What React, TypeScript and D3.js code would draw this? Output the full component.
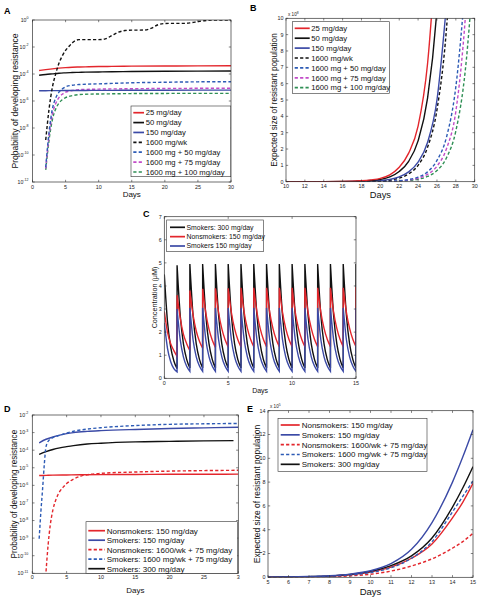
import React from 'react';
import * as d3 from 'd3';

const FONT = '"Liberation Sans", Arial, Helvetica, sans-serif';
const RED = '#e3262c';
const BLK = '#111111';
const BLU = '#3b4aa6';
const DBLU = '#2d5bb5';
const MAG = '#c24bc8';
const GRN = '#2f8f55';

// ---------- Panel A: probability of developing resistance ----------
const aDaysSolid = [1, 2, 3, 4, 5, 6, 7, 8, 10, 12, 15, 20, 25, 30];
const a25 = [1.8e-4, 2.1e-4, 2.4e-4, 2.7e-4, 2.95e-4, 3.15e-4, 3.3e-4, 3.4e-4, 3.55e-4, 3.65e-4, 3.8e-4, 3.9e-4, 4.0e-4, 4.05e-4];
const a50 = [8e-5, 9.2e-5, 1.03e-4, 1.15e-4, 1.22e-4, 1.28e-4, 1.33e-4, 1.37e-4, 1.42e-4, 1.47e-4, 1.52e-4, 1.58e-4, 1.62e-4, 1.65e-4];
const a150 = [5.7e-6, 5.8e-6, 5.85e-6, 5.9e-6, 5.95e-6, 6.0e-6, 6.0e-6, 6.05e-6, 6.1e-6, 6.15e-6, 6.2e-6, 6.3e-6, 6.35e-6, 6.4e-6];
const aDaysWk = [2, 2.5, 3, 3.5, 4, 4.5, 5, 5.5, 6, 7, 8, 9, 10, 11, 12, 13, 14, 15, 16, 17, 18, 19, 20, 21, 22, 23, 24, 25, 26, 27, 28, 29, 30];
const a1600wk = [1.3e-9, 2.5e-7, 1e-5, 1e-4, 6.3e-4, 2.2e-3, 5.6e-3, 1.1e-2, 2.0e-2, 3.5e-2, 3.5e-2, 3.5e-2, 3.5e-2, 4.0e-2, 7.1e-2, 0.126, 0.166, 0.178, 0.178, 0.182, 0.25, 0.45, 0.55, 0.56, 0.56, 0.56, 0.63, 0.76, 0.89, 0.98, 1, 1, 1];
const aDaysCombo = [2, 2.5, 3, 3.5, 4, 4.5, 5, 6, 7, 8, 10, 15, 20, 25, 30];
const a1600p50 = [1.26e-11, 5e-9, 2.5e-7, 1.6e-6, 4.5e-6, 7.9e-6, 1.12e-5, 1.48e-5, 1.66e-5, 1.74e-5, 1.86e-5, 2.24e-5, 2.45e-5, 2.63e-5, 2.69e-5];
const a1600p75 = [1e-11, 2.5e-9, 1e-7, 6.3e-7, 1.78e-6, 3.16e-6, 4.47e-6, 6.0e-6, 6.9e-6, 7.2e-6, 7.6e-6, 8.1e-6, 8.5e-6, 8.7e-6, 8.7e-6];
const a1600p100 = [7.9e-12, 1.26e-9, 4e-8, 2.5e-7, 7.1e-7, 1.26e-6, 1.78e-6, 2.5e-6, 2.95e-6, 3.16e-6, 3.3e-6, 3.55e-6, 3.63e-6, 3.7e-6, 3.7e-6];
const aLegend = ['25 mg/day', '50 mg/day', '150 mg/day', '1600 mg/wk', '1600 mg + 50 mg/day', '1600 mg + 75 mg/day', '1600 mg + 100 mg/day'];

// ---------- Panel B: expected size of resistant population (x10^8) ----------
const bDays = [10, 12, 14, 16, 17, 18, 19, 20, 21, 22, 23, 24, 25, 26, 27, 28, 29, 30];
const b25 = [0.0002, 0.0009, 0.0035, 0.014, 0.028, 0.056, 0.11, 0.2, 0.42, 0.88, 1.75, 3.4, 7.2, 15];
const b50 = [0.00015, 0.0006, 0.0025, 0.01, 0.02, 0.04, 0.075, 0.14, 0.29, 0.62, 1.25, 2.5, 5.1, 10.6, 22];
const b150 = [0.0001, 0.0003, 0.0012, 0.005, 0.01, 0.018, 0.035, 0.07, 0.14, 0.3, 0.6, 1.2, 2.4, 5.0, 10.8];
const b1600wk = [0.0001, 0.0002, 0.0008, 0.003, 0.006, 0.012, 0.025, 0.05, 0.1, 0.22, 0.48, 1.0, 2.1, 4.4, 9.3, 19];
const b1600p50 = [0.00005, 0.0001, 0.0003, 0.0012, 0.002, 0.004, 0.008, 0.014, 0.03, 0.06, 0.13, 0.28, 0.6, 1.3, 2.7, 5.8, 12];
const b1600p75 = [0.00004, 0.0001, 0.0002, 0.0009, 0.0015, 0.003, 0.006, 0.01, 0.02, 0.045, 0.1, 0.21, 0.45, 0.95, 2.0, 4.3, 10, 20];
const b1600p100 = [0.00003, 0.0001, 0.0002, 0.0006, 0.001, 0.002, 0.004, 0.007, 0.014, 0.03, 0.07, 0.15, 0.32, 0.68, 1.45, 3.1, 6.8, 14];

// ---------- Panel C: concentration (µM); each row = one day's dose cycle at 0, .25, .5, .75, 1 day ----------
const cSmokers300 = [
  [4.5, 2.45, 1.35, 0.75, 0.42],
  [4.9, 2.7, 1.48, 0.82, 0.45], [4.95, 2.72, 1.49, 0.82, 0.45], [4.95, 2.72, 1.49, 0.82, 0.45],
  [4.95, 2.72, 1.49, 0.82, 0.45], [4.95, 2.72, 1.49, 0.82, 0.45], [4.95, 2.72, 1.49, 0.82, 0.45],
  [4.95, 2.72, 1.49, 0.82, 0.45], [4.95, 2.72, 1.49, 0.82, 0.45], [4.95, 2.72, 1.49, 0.82, 0.45],
  [4.95, 2.72, 1.49, 0.82, 0.45], [4.95, 2.72, 1.49, 0.82, 0.45], [4.95, 2.72, 1.49, 0.82, 0.45],
  [4.95, 2.72, 1.49, 0.82, 0.45], [4.95, 2.72, 1.49, 0.82, 0.45],
];
const cNonsmokers150 = [
  [2.9, 2.0, 1.5, 1.2, 0.95],
  [3.6, 2.6, 1.9, 1.5, 1.2], [3.8, 2.75, 2.05, 1.6, 1.3], [3.88, 2.82, 2.12, 1.66, 1.34],
  [3.9, 2.85, 2.15, 1.68, 1.36], [3.9, 2.85, 2.15, 1.68, 1.36], [3.92, 2.86, 2.16, 1.69, 1.37],
  [3.92, 2.86, 2.16, 1.69, 1.37], [3.92, 2.86, 2.16, 1.69, 1.37], [3.92, 2.86, 2.16, 1.69, 1.37],
  [3.92, 2.86, 2.16, 1.69, 1.37], [3.92, 2.86, 2.16, 1.69, 1.37], [3.92, 2.86, 2.16, 1.69, 1.37],
  [3.92, 2.86, 2.16, 1.69, 1.37], [3.92, 2.86, 2.16, 1.69, 1.37],
];
const cSmokers150 = [
  [2.4, 1.3, 0.72, 0.42, 0.28],
  [3.0, 1.65, 0.92, 0.52, 0.3], [3.05, 1.67, 0.93, 0.53, 0.3], [3.05, 1.67, 0.93, 0.53, 0.3],
  [3.05, 1.67, 0.93, 0.53, 0.3], [3.05, 1.67, 0.93, 0.53, 0.3], [3.05, 1.67, 0.93, 0.53, 0.3],
  [3.05, 1.67, 0.93, 0.53, 0.3], [3.05, 1.67, 0.93, 0.53, 0.3], [3.05, 1.67, 0.93, 0.53, 0.3],
  [3.05, 1.67, 0.93, 0.53, 0.3], [3.05, 1.67, 0.93, 0.53, 0.3], [3.05, 1.67, 0.93, 0.53, 0.3],
  [3.05, 1.67, 0.93, 0.53, 0.3], [3.05, 1.67, 0.93, 0.53, 0.3],
];
const cFinalPeaks = [4.95, 3.95, 3.05];
const cLegend = ['Smokers: 300 mg/day', 'Nonsmokers: 150 mg/day', 'Smokers 150 mg/day'];

// ---------- Panel D: probability of developing resistance ----------
const dDaysNon150 = [1, 2, 3, 5, 7, 10, 15, 20, 25, 30];
const dNon150 = [3.6e-6, 3.7e-6, 3.8e-6, 3.9e-6, 4.0e-6, 4.07e-6, 4.17e-6, 4.27e-6, 4.27e-6, 4.37e-6];
const dDaysNonCombo = [2, 2.3, 2.6, 3, 3.5, 4, 4.5, 5, 6, 7, 8, 10, 15, 20, 25, 30];
const dNonCombo = [1.26e-11, 4e-10, 5e-9, 4e-8, 1.8e-7, 4.5e-7, 7.9e-7, 1.26e-6, 2.24e-6, 3.3e-6, 4e-6, 4.8e-6, 5.75e-6, 6.45e-6, 6.9e-6, 7.2e-6];
const dDaysSm150 = [1, 2, 3, 4, 5, 6, 8, 10, 15, 20, 25, 30];
const dSm150 = [2.63e-4, 4.17e-4, 5.6e-4, 7.2e-4, 8.7e-4, 1.0e-3, 1.17e-3, 1.29e-3, 1.51e-3, 1.7e-3, 1.86e-3, 2.0e-3];
const dDaysSmCombo = [1, 1.25, 1.5, 1.75, 2, 2.5, 3, 4, 5, 6, 8, 10, 15, 20, 25, 30];
const dSmCombo = [9.3e-10, 3.2e-8, 6.3e-7, 1.6e-5, 1.6e-4, 4.0e-4, 5.2e-4, 7.0e-4, 9.5e-4, 1.2e-3, 1.58e-3, 1.9e-3, 2.5e-3, 2.95e-3, 3.16e-3, 3.3e-3];
const dDaysSm300 = [1, 2, 3, 4, 5, 6, 8, 10, 15, 20, 25, 29.3];
const dSm300 = [5.75e-5, 8.3e-5, 1.1e-4, 1.35e-4, 1.58e-4, 1.82e-4, 2.24e-4, 2.5e-4, 2.95e-4, 3.16e-4, 3.4e-4, 3.47e-4];
const deLegend = ['Nonsmokers: 150 mg/day', 'Smokers: 150 mg/day', 'Nonsmokers: 1600/wk + 75 mg/day', 'Smokers: 1600 mg/wk + 75 mg/day', 'Smokers: 300 mg/day'];
const dXTickLabels = ['0', '5', '10', '15', '20', '25', '3'];

// ---------- Panel E: expected size of resistant population ----------
const eDays = [5, 6, 7, 8, 9, 10, 11, 12, 13, 14, 14.5, 15];
const eNon150 = [0.01, 0.025, 0.05, 0.1, 0.22, 0.45, 0.85, 1.6, 2.8, 5.0, 6.3, 7.9];
const eSm150 = [0.015, 0.03, 0.07, 0.13, 0.27, 0.55, 1.15, 2.35, 4.6, 8.0, 10.1, 12.4];
const eNonCombo = [0.005, 0.01, 0.02, 0.05, 0.12, 0.26, 0.52, 0.95, 1.55, 2.45, 3.0, 3.7];
const eSmCombo = [0.008, 0.02, 0.045, 0.1, 0.2, 0.4, 0.8, 1.6, 3.0, 5.5, 6.8, 8.1];
const eSm300 = [0.012, 0.028, 0.06, 0.12, 0.25, 0.5, 0.98, 1.8, 3.3, 5.9, 7.5, 9.3];

type Series = { xs: number[]; ys: number[]; color: string; dash?: string; w?: number };
type LegendItem = { label: string; color: string; dash?: string };
type Box = { l: number; r: number; t: number; b: number };

const DASH = '3.2,2.2';

function seriesPath(s: Series, x: any, y: any) {
  const pts = s.xs.slice(0, s.ys.length).map((d, i) => [d, s.ys[i]] as [number, number]);
  const line = d3.line<[number, number]>().x((p) => x(p[0])).y((p) => y(p[1])).curve(d3.curveMonotoneX);
  return line(pts) || '';
}

function Frame(props: {
  id: string; box: Box; x: any; y: any; xTicks: number[]; xTickText?: string[]; yTicks: number[];
  yTickNode: (v: number) => React.ReactNode; tickFont: number; xTickY: number; yTickX: number;
  xLabel: string; xLabelY: number; xLabelFont: number; yLabel: string; yLabelX: number; yLabelFont: number;
  children?: React.ReactNode; letter: string; letterX: number; letterY: number;
}) {
  const { box, x, y } = props;
  const tl = 2.2;
  return (
    <g>
      <defs>
        <clipPath id={props.id}>
          <rect x={box.l} y={box.t} width={box.r - box.l} height={box.b - box.t} />
        </clipPath>
      </defs>
      <rect x={box.l} y={box.t} width={box.r - box.l} height={box.b - box.t} fill="#fff" />
      <g clipPath={`url(#${props.id})`}>{props.children}</g>
      <rect x={box.l} y={box.t} width={box.r - box.l} height={box.b - box.t} fill="none" stroke="#333" strokeWidth={0.7} />
      {props.xTicks.map((v, i) => (
        <g key={'xt' + i}>
          <line x1={x(v)} x2={x(v)} y1={box.b} y2={box.b - tl} stroke="#333" strokeWidth={0.6} />
          <line x1={x(v)} x2={x(v)} y1={box.t} y2={box.t + tl} stroke="#333" strokeWidth={0.6} />
          <text x={x(v)} y={props.xTickY} fontSize={props.tickFont} textAnchor="middle" fill="#222">
            {props.xTickText ? props.xTickText[i] : String(v)}
          </text>
        </g>
      ))}
      {props.yTicks.map((v, i) => (
        <g key={'yt' + i}>
          <line x1={box.l} x2={box.l + tl} y1={y(v)} y2={y(v)} stroke="#333" strokeWidth={0.6} />
          <line x1={box.r} x2={box.r - tl} y1={y(v)} y2={y(v)} stroke="#333" strokeWidth={0.6} />
          <text x={props.yTickX} y={y(v) + props.tickFont * 0.35} fontSize={props.tickFont} textAnchor="end" fill="#222">
            {props.yTickNode(v)}
          </text>
        </g>
      ))}
      <text x={(box.l + box.r) / 2} y={props.xLabelY} fontSize={props.xLabelFont} textAnchor="middle" fill="#111">
        {props.xLabel}
      </text>
      <text
        transform={`translate(${props.yLabelX},${(box.t + box.b) / 2}) rotate(-90)`}
        fontSize={props.yLabelFont}
        textAnchor="middle"
        fill="#111"
      >
        {props.yLabel}
      </text>
      <text x={props.letterX} y={props.letterY} fontSize={9} fontWeight="bold" fill="#000">
        {props.letter}
      </text>
    </g>
  );
}

function Legend(props: { box: Box; items: LegendItem[]; rowTop: number; rowStep: number; lineX1: number; lineX2: number; textX: number; font: number }) {
  const { box } = props;
  return (
    <g>
      <rect x={box.l} y={box.t} width={box.r - box.l} height={box.b - box.t} fill="#fff" stroke="#333" strokeWidth={0.6} />
      {props.items.map((it, i) => {
        const yy = props.rowTop + i * props.rowStep;
        return (
          <g key={i}>
            <line x1={props.lineX1} x2={props.lineX2} y1={yy} y2={yy} stroke={it.color} strokeWidth={1.7} strokeDasharray={it.dash} />
            <text x={props.textX} y={yy + props.font * 0.36} fontSize={props.font} fill="#111">
              {it.label}
            </text>
          </g>
        );
      })}
    </g>
  );
}

function logTick(v: number, main: number, sup: number) {
  const e = Math.round(Math.log10(v));
  return (
    <>
      <tspan fontSize={main}>10</tspan>
      <tspan fontSize={sup} dy={-2.4}>{String(e)}</tspan>
    </>
  );
}

function Lines(props: { series: Series[]; x: any; y: any }) {
  return (
    <>
      {props.series.map((s, i) => (
        <path key={i} d={seriesPath(s, props.x, props.y)} fill="none" stroke={s.color} strokeWidth={s.w ?? 1.4} strokeDasharray={s.dash} />
      ))}
    </>
  );
}

export default function App() {
  // ---- A ----
  const boxA: Box = { l: 32.5, r: 231, t: 20, b: 182 };
  const xA = d3.scaleLinear().domain([0, 30]).range([boxA.l, boxA.r]);
  const yA = d3.scaleLog().domain([1e-12, 1]).range([boxA.b, boxA.t]);
  const seriesA: Series[] = [
    { xs: aDaysCombo, ys: a1600p100, color: GRN, dash: DASH },
    { xs: aDaysCombo, ys: a1600p75, color: MAG, dash: DASH },
    { xs: aDaysCombo, ys: a1600p50, color: DBLU, dash: DASH },
    { xs: aDaysSolid, ys: a150, color: BLU },
    { xs: aDaysSolid, ys: a50, color: BLK },
    { xs: aDaysSolid, ys: a25, color: RED },
    { xs: aDaysWk, ys: a1600wk, color: BLK, dash: DASH },
  ];
  const legendColors = [
    { color: RED }, { color: BLK }, { color: BLU }, { color: BLK, dash: DASH },
    { color: DBLU, dash: DASH }, { color: MAG, dash: DASH }, { color: GRN, dash: DASH },
  ];

  // ---- B ----
  const boxB: Box = { l: 286, r: 474.7, t: 18.3, b: 181.7 };
  const xB = d3.scaleLinear().domain([10, 30]).range([boxB.l, boxB.r]);
  const yB = d3.scaleLinear().domain([0, 10]).range([boxB.b, boxB.t]);
  const seriesB: Series[] = [
    { xs: bDays, ys: b1600p100, color: GRN, dash: DASH },
    { xs: bDays, ys: b1600p75, color: MAG, dash: DASH },
    { xs: bDays, ys: b1600p50, color: DBLU, dash: DASH },
    { xs: bDays, ys: b1600wk, color: BLK, dash: DASH },
    { xs: bDays, ys: b150, color: BLU },
    { xs: bDays, ys: b50, color: BLK },
    { xs: bDays, ys: b25, color: RED },
  ];

  // ---- C ----
  const boxC: Box = { l: 164.3, r: 356, t: 216.7, b: 378.3 };
  const xC = d3.scaleLinear().domain([0, 15]).range([boxC.l, boxC.r]);
  const yC = d3.scaleLinear().domain([0, 7]).range([boxC.b, boxC.t]);
  const cycLine = d3.line<[number, number]>().x((p) => xC(p[0])).y((p) => yC(p[1])).curve(d3.curveMonotoneX);
  const sawPath = (cycles: number[][], finalPeak: number) => {
    let dStr = '';
    cycles.forEach((c, day) => {
      const pts = c.map((v, k) => [day + (k * 1) / (c.length - 1), v] as [number, number]);
      const seg = cycLine(pts) || '';
      dStr += day === 0 ? seg : seg.replace(/^M/, 'L');
    });
    dStr += `L${xC(cycles.length)},${yC(finalPeak)}`;
    return dStr;
  };

  // ---- D ----
  const boxD: Box = { l: 32.3, r: 238.3, t: 415, b: 573.3 };
  const xD = d3.scaleLinear().domain([0, 30]).range([boxD.l, boxD.r]);
  const yD = d3.scaleLog().domain([1e-11, 1e-2]).range([boxD.b, boxD.t]);
  const seriesD: Series[] = [
    { xs: dDaysNonCombo, ys: dNonCombo, color: RED, dash: DASH },
    { xs: dDaysNon150, ys: dNon150, color: RED },
    { xs: dDaysSm300, ys: dSm300, color: BLK },
    { xs: dDaysSm150, ys: dSm150, color: BLU },
    { xs: dDaysSmCombo, ys: dSmCombo, color: DBLU, dash: DASH },
  ];
  const deColors = [
    { color: RED }, { color: BLU }, { color: RED, dash: DASH }, { color: DBLU, dash: DASH }, { color: BLK },
  ];

  // ---- E ----
  const boxE: Box = { l: 268, r: 473, t: 410.7, b: 577.3 };
  const xE = d3.scaleLinear().domain([5, 15]).range([boxE.l, boxE.r]);
  const yE = d3.scaleLinear().domain([0, 14]).range([boxE.b, boxE.t]);
  const seriesE: Series[] = [
    { xs: eDays, ys: eNonCombo, color: RED, dash: DASH },
    { xs: eDays, ys: eNon150, color: RED },
    { xs: eDays, ys: eSm300, color: BLK },
    { xs: eDays, ys: eSmCombo, color: DBLU, dash: DASH },
    { xs: eDays, ys: eSm150, color: BLU },
  ];

  const tickF = 5.4;

  return (
    <svg width={488} height={600} style={{ position: 'absolute', left: 0, top: 0, fontFamily: FONT }}>
      <rect width={488} height={600} fill="#fff" />

      {/* A */}
      <Frame id="clipA" box={boxA} x={xA} y={yA} xTicks={d3.range(0, 31, 5)} yTicks={[1, 1e-2, 1e-4, 1e-6, 1e-8, 1e-10, 1e-12]}
        yTickNode={(v) => logTick(v, 5.2, 3.6)} tickFont={tickF} xTickY={188.5} yTickX={boxA.l - 4}
        xLabel="Days" xLabelY={196.5} xLabelFont={8} yLabel="Probability of developing resistance" yLabelX={18} yLabelFont={8.6}
        letter="A" letterX={4} letterY={14}>
        <Lines series={seriesA} x={xA} y={yA} />
      </Frame>
      <Legend box={{ l: 131, r: 230.7, t: 106, b: 176.7 }} items={aLegend.map((l, i) => ({ label: l, ...legendColors[i] }))}
        rowTop={112.7} rowStep={9.88} lineX1={133.3} lineX2={144} textX={145.7} font={7.7} />

      {/* B */}
      <Frame id="clipB" box={boxB} x={xB} y={yB} xTicks={d3.range(10, 31, 2)} yTicks={d3.range(0, 11, 1)}
        yTickNode={(v) => String(v)} tickFont={tickF} xTickY={188} yTickX={boxB.l - 2.5}
        xLabel="Days" xLabelY={197.5} xLabelFont={9.3} yLabel="Expected size of resistant population" yLabelX={277} yLabelFont={8.2}
        letter="B" letterX={250} letterY={11}>
        <Lines series={seriesB} x={xB} y={yB} />
      </Frame>
      <text x={288} y={15.5} fontSize={4.6} fill="#222">x 10<tspan dy={-2} fontSize={3.4}>8</tspan></text>
      <Legend box={{ l: 292.3, r: 389.7, t: 21.7, b: 93.3 }} items={aLegend.map((l, i) => ({ label: l, ...legendColors[i] }))}
        rowTop={28.3} rowStep={9.9} lineX1={294.7} lineX2={309.7} textX={311.3} font={7.7} />

      {/* C */}
      <Frame id="clipC" box={boxC} x={xC} y={yC} xTicks={[0, 5, 10, 15]} yTicks={d3.range(0, 8, 1)}
        yTickNode={(v) => String(v)} tickFont={tickF} xTickY={385} yTickX={boxC.l - 2.5}
        xLabel="Days" xLabelY={393} xLabelFont={7} yLabel="Concentration (μM)" yLabelX={156.5} yLabelFont={7.2}
        letter="C" letterX={143} letterY={217}>
        <path d={sawPath(cSmokers300, cFinalPeaks[0])} fill="none" stroke={BLK} strokeWidth={1.4} />
        <path d={sawPath(cNonsmokers150, cFinalPeaks[1])} fill="none" stroke={RED} strokeWidth={1.4} />
        <path d={sawPath(cSmokers150, cFinalPeaks[2])} fill="none" stroke={BLU} strokeWidth={1.4} />
      </Frame>
      <Legend box={{ l: 166.7, r: 263.3, t: 220, b: 251.7 }} items={cLegend.map((l, i) => ({ label: l, color: [BLK, RED, BLU][i] }))}
        rowTop={227.3} rowStep={9.35} lineX1={170} lineX2={185} textX={186.5} font={6.9} />

      {/* D */}
      <Frame id="clipD" box={boxD} x={xD} y={yD} xTicks={d3.range(0, 31, 5)} xTickText={dXTickLabels}
        yTicks={[1e-2, 1e-3, 1e-4, 1e-5, 1e-6, 1e-7, 1e-8, 1e-9, 1e-10, 1e-11]}
        yTickNode={(v) => logTick(v, 5.2, 3.6)} tickFont={tickF} xTickY={579} yTickX={boxD.l - 4}
        xLabel="Days" xLabelY={593} xLabelFont={8} yLabel="Probability of developing resistance" yLabelX={16.5} yLabelFont={8.2}
        letter="D" letterX={4} letterY={412}>
        <Lines series={seriesD} x={xD} y={yD} />
      </Frame>
      <Legend box={{ l: 86, r: 237.3, t: 521.7, b: 573.3 }} items={deLegend.map((l, i) => ({ label: l, ...deColors[i] }))}
        rowTop={530.7} rowStep={9.5} lineX1={88.3} lineX2={105} textX={106.7} font={8} />

      {/* E */}
      <Frame id="clipE" box={boxE} x={xE} y={yE} xTicks={d3.range(5, 16, 1)} yTicks={d3.range(0, 15, 2)}
        yTickNode={(v) => String(v)} tickFont={tickF} xTickY={583.5} yTickX={boxE.l - 2.5}
        xLabel="Days" xLabelY={594.5} xLabelFont={9.5} yLabel="Expected size of resistant population" yLabelX={259.5} yLabelFont={8.5}
        letter="E" letterX={247} letterY={412}>
        <Lines series={seriesE} x={xE} y={yE} />
      </Frame>
      <text x={270} y={408} fontSize={4.6} fill="#222">x 10<tspan dy={-2} fontSize={3.4}>5</tspan></text>
      <Legend box={{ l: 278, r: 427, t: 418.3, b: 471.7 }} items={deLegend.map((l, i) => ({ label: l, ...deColors[i] }))}
        rowTop={425} rowStep={9.83} lineX1={280.7} lineX2={299.7} textX={301.7} font={8} />
    </svg>
  );
}
